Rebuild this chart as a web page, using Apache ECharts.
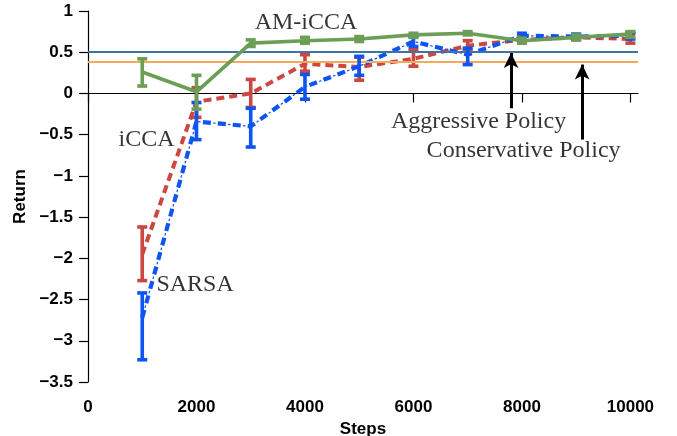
<!DOCTYPE html>
<html><head><meta charset="utf-8">
<script src="https://cdn.jsdelivr.net/npm/echarts@6/dist/echarts.min.js"></script>
<style>html,body{margin:0;padding:0;background:#fff}#c{width:677px;height:436px}</style>
</head><body><div id="c"></div>
<script>
const steps = [1000, 2000, 3000, 4000, 5000, 6000, 7000, 8000, 9000, 10000];

const amMean = [0.26, 0.02, 0.61, 0.64, 0.66, 0.71, 0.73, 0.64, 0.68, 0.72];
const amLow  = [0.09, -0.19, 0.57, 0.61, 0.63, 0.68, 0.71, 0.61, 0.65, 0.68];
const amHigh = [0.42, 0.22, 0.65, 0.68, 0.69, 0.73, 0.75, 0.67, 0.71, 0.75];

const iccaMean = [-1.95, -0.10, 0.00, 0.36, 0.32, 0.42, 0.58, 0.65, 0.68, 0.66];
const iccaLow  = [-2.27, -0.29, -0.17, 0.27, 0.16, 0.33, 0.53, 0.62, 0.65, 0.61];
const iccaHigh = [-1.62, 0.07, 0.17, 0.47, 0.44, 0.53, 0.64, 0.69, 0.71, 0.72];

const sarsaMean = [-2.72, -0.34, -0.40, 0.08, 0.33, 0.63, 0.47, 0.70, 0.69, 0.70];
const sarsaLow  = [-3.23, -0.56, -0.65, -0.07, 0.22, 0.57, 0.35, 0.66, 0.66, 0.66];
const sarsaHigh = [-2.42, -0.11, -0.18, 0.23, 0.45, 0.69, 0.55, 0.73, 0.72, 0.74];

const aggressiveReturn = 0.51;
const conservativeReturn = 0.38;

const xTicks = [0, 2000, 4000, 6000, 8000, 10000];

const annotations = [
  {name: 'AM-iCCA', value: [4019, 0.856]},
  {name: 'iCCA', value: [1078, -0.566]},
  {name: 'SARSA', value: [1974, -2.318]},
  {name: 'Aggressive Policy', value: [7200, -0.345]},
  {name: 'Conservative Policy', value: [8031, -0.698]}
];
const arrows = [
  {x: 7800, from: -0.18, to: 0.49},
  {x: 9110, from: -0.56, to: 0.35}
];

const C_GREEN = '#6c9e56', C_RED = '#cc4741', C_BLUE = '#0d55f2';
const C_AGG = '#3d74a6', C_CONS = '#f4aa5c';

function pairs(m) { return steps.map((s, i) => [s, m[i]]); }
function errData(lo, hi) { return steps.map((s, i) => [s, lo[i], hi[i]]); }
function errRender(color) {
  return function (params, api) {
    const x = api.value(0), lo = api.value(1), hi = api.value(2);
    const a = api.coord([x, lo]), b = api.coord([x, hi]);
    const hw = 5;
    const style = {stroke: color, lineWidth: 3.6, fill: null};
    return {type: 'group', children: [
      {type: 'line', shape: {x1: a[0], y1: a[1], x2: b[0], y2: b[1]}, style},
      {type: 'line', shape: {x1: a[0] - hw, y1: a[1], x2: a[0] + hw, y2: a[1]}, style},
      {type: 'line', shape: {x1: b[0] - hw, y1: b[1], x2: b[0] + hw, y2: b[1]}, style}
    ]};
  };
}
function errSeries(lo, hi, color, z) {
  return {type: 'custom', renderItem: errRender(color), data: errData(lo, hi),
    encode: {x: 0, y: [1, 2]}, z: z, silent: true, clip: false};
}

const axisFont = {fontFamily: 'Liberation Sans', fontWeight: 'bold', fontSize: 17, color: '#000'};

const chart = echarts.init(document.getElementById('c'), null, {renderer: 'canvas'});
chart.setOption({
  animation: false,
  backgroundColor: '#fff',
  grid: {left: 88, right: 39, top: 11, bottom: 54, containLabel: false, outerBoundsMode: 'none'},
  xAxis: {
    type: 'value', min: 0, max: 10140, interval: 2000,
    name: 'Steps', nameLocation: 'middle', nameGap: 34,
    nameTextStyle: Object.assign({}, axisFont),
    axisLine: {show: true, lineStyle: {color: '#000', width: 1.2}},
    axisTick: {show: true, length: 9, inside: false, customValues: xTicks, lineStyle: {color: '#000', width: 1.2}},
    axisLabel: Object.assign({margin: 17, customValues: xTicks, formatter: v => String(v)}, axisFont),
    splitLine: {show: false}
  },
  yAxis: {
    type: 'value', min: -3.5, max: 1, interval: 0.5,
    name: 'Return', nameLocation: 'middle', nameGap: 58, nameRotate: 90,
    nameTextStyle: Object.assign({}, axisFont),
    axisLine: {show: true, lineStyle: {color: '#000', width: 1.2}},
    axisTick: {show: true, length: 9, inside: false, lineStyle: {color: '#000', width: 1.2}},
    axisLabel: Object.assign({margin: 15, formatter: v => (v < 0 ? '\u2212' + String(-v) : String(v))}, axisFont),
    splitLine: {show: false}
  },
  series: [
    {type: 'line', data: [], z: 1, silent: true,
      markLine: {silent: true, symbol: ['none', 'none'], label: {show: false}, animation: false,
        data: [
          {yAxis: aggressiveReturn, lineStyle: {color: C_AGG, width: 2, type: 'solid'}},
          {yAxis: conservativeReturn, lineStyle: {color: C_CONS, width: 2, type: 'solid'}}
        ]}},
    {type: 'line', data: pairs(iccaMean), z: 2, symbol: 'none', silent: true,
      lineStyle: {color: C_RED, width: 4, type: [8, 5]}},
    errSeries(iccaLow, iccaHigh, C_RED, 3),
    {type: 'line', data: pairs(sarsaMean), z: 4, symbol: 'none', silent: true,
      lineStyle: {color: C_BLUE, width: 4.2, type: [8, 7]}},
    {type: 'line', data: pairs(sarsaMean), z: 4, symbol: 'none', silent: true,
      lineStyle: {color: C_BLUE, width: 1.2, type: [2.5, 12.5], dashOffset: 4.75}},
    errSeries(sarsaLow, sarsaHigh, C_BLUE, 5),
    {type: 'line', data: pairs(amMean), z: 6, symbol: 'none', silent: true,
      lineStyle: {color: C_GREEN, width: 3.6, type: 'solid'}},
    errSeries(amLow, amHigh, C_GREEN, 7),
    {type: 'line', data: [], z: 8, silent: true,
      markLine: {silent: true, symbol: ['none', 'arrow'], symbolSize: [11, 15], label: {show: false}, animation: false,
        lineStyle: {color: '#000', width: 3, type: 'solid'},
        data: arrows.map(a => [{coord: [a.x, a.from]}, {coord: [a.x, a.to]}])}},
    {type: 'scatter', data: annotations, z: 9, symbolSize: 1, silent: true,
      itemStyle: {color: 'transparent'},
      label: {show: true, position: 'inside', formatter: '{b}',
        fontFamily: 'Liberation Serif', fontSize: 24, color: '#000'}}
  ]
});
</script></body></html>
